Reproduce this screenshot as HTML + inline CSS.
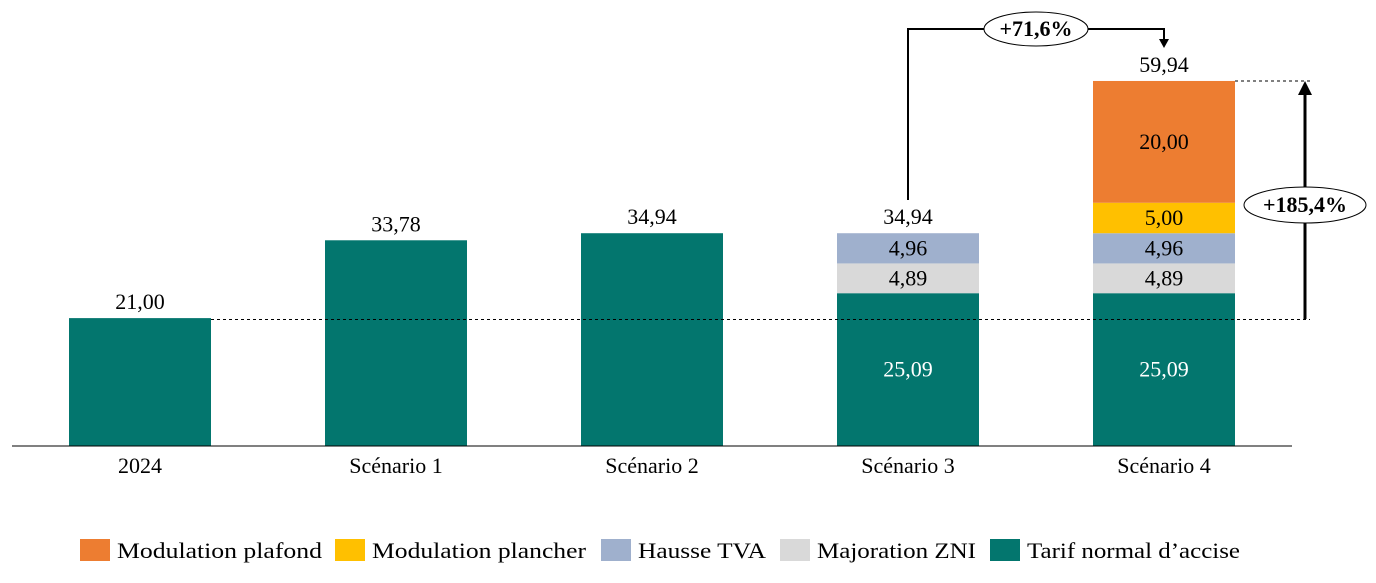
<!DOCTYPE html>
<html><head><meta charset="utf-8"><style>
body{margin:0;background:#fff;}
svg text{font-family:"Liberation Serif",serif;}
</style></head><body>
<svg id="chart" width="1376" height="578" viewBox="0 0 1376 578" xmlns="http://www.w3.org/2000/svg">
<g id="bars"></g>
<line x1="12" y1="446" x2="1292" y2="446" stroke="#000" stroke-width="1"/>
<g id="labels"></g>
<g>
<line x1="211" y1="319.5" x2="1310" y2="319.5" stroke="#000" stroke-dasharray="3,3" stroke-width="1"/>
<line x1="1235" y1="81" x2="1310" y2="81" stroke="#000" stroke-dasharray="3,3" stroke-width="1"/>
<line x1="1305" y1="319" x2="1305" y2="95" stroke="#000" stroke-width="3"/>
<polygon points="1298,95 1312,95 1305,81" fill="#000"/>
<ellipse cx="1305" cy="205" rx="61" ry="18" fill="#fff" stroke="#000"/>
<text x="1305" y="212" font-size="22" font-weight="bold" text-anchor="middle">+185,4%</text>
<polyline points="908,200 908,29 1164,29 1164,40" fill="none" stroke="#000" stroke-width="2"/>
<polygon points="1159,39 1169,39 1164,48" fill="#000"/>
<ellipse cx="1036" cy="29" rx="52" ry="17" fill="#fff" stroke="#000"/>
<text x="1036" y="36" font-size="22" font-weight="bold" text-anchor="middle">+71,6%</text>
</g>
<g id="legend"></g>
</svg>
<script>
const categories=["2024","Scénario 1","Scénario 2","Scénario 3","Scénario 4"];
const seriesNames=["Tarif normal d’accise","Majoration ZNI","Hausse TVA","Modulation plancher","Modulation plafond"];
const tarif=[21.00,33.78,34.94,25.09,25.09];
const zni=[0,0,0,4.89,4.89];
const tva=[0,0,0,4.96,4.96];
const plancher=[0,0,0,0,5.00];
const plafond=[0,0,0,0,20.00];
const totals=[21.00,33.78,34.94,34.94,59.94];
const colors=["#03766E","#D9D9D9","#9FB0CD","#FFC000","#ED7D31"];
const series=[tarif,zni,tva,plancher,plafond];
const NS="http://www.w3.org/2000/svg";
const base=446, scale=6.09, x0=140, step=256, bw=142;
const y=v=>base-v*scale;
const xc=i=>x0+i*step;
const fmt=v=>v.toFixed(2).replace('.',',');
const bars=document.getElementById('bars'), labels=document.getElementById('labels');
function mk(tag,attrs,parent){const e=document.createElementNS(NS,tag);for(const k in attrs)e.setAttribute(k,attrs[k]);parent.appendChild(e);return e;}
categories.forEach((c,i)=>{
  let cum=0;
  series.forEach((s,k)=>{
    const v=s[i]; if(!v)return;
    const r=mk('rect',{x:xc(i)-bw/2,y:y(cum+v),width:bw,height:v*scale,fill:colors[k]},bars);
    
    
    const stacked=series.slice(1).some(s2=>s2[i]>0);
    if(stacked){
      const t=mk('text',{x:xc(i),y:y(cum+v/2)+7,'font-size':22,'text-anchor':'middle',fill:k===0?'#fff':'#000'},labels);
      t.textContent=fmt(v);
      
      
    }
    cum+=v;
  });
  const t=mk('text',{x:xc(i),y:y(totals[i])-9,'font-size':22,'text-anchor':'middle'},labels);
  t.textContent=fmt(totals[i]);
  
  
  const ct=mk('text',{x:xc(i),y:473,'font-size':22,'text-anchor':'middle'},labels);
  ct.textContent=c;
  
  
});
const legend=document.getElementById('legend');
const legOrder=[4,3,2,1,0];
const legX=[80,335,601,780,990];
const legW=[205,214,128,159,213];
legOrder.forEach((k,j)=>{
  const g=mk('g',{},legend);
  
  
  mk('rect',{x:legX[j],y:539,width:30,height:22,fill:colors[k]},g);
  const t=mk('text',{x:legX[j]+37,y:558,'font-size':22,textLength:legW[j],lengthAdjust:'spacingAndGlyphs'},g);
  t.textContent=seriesNames[k];
});
</script>
</body></html>
